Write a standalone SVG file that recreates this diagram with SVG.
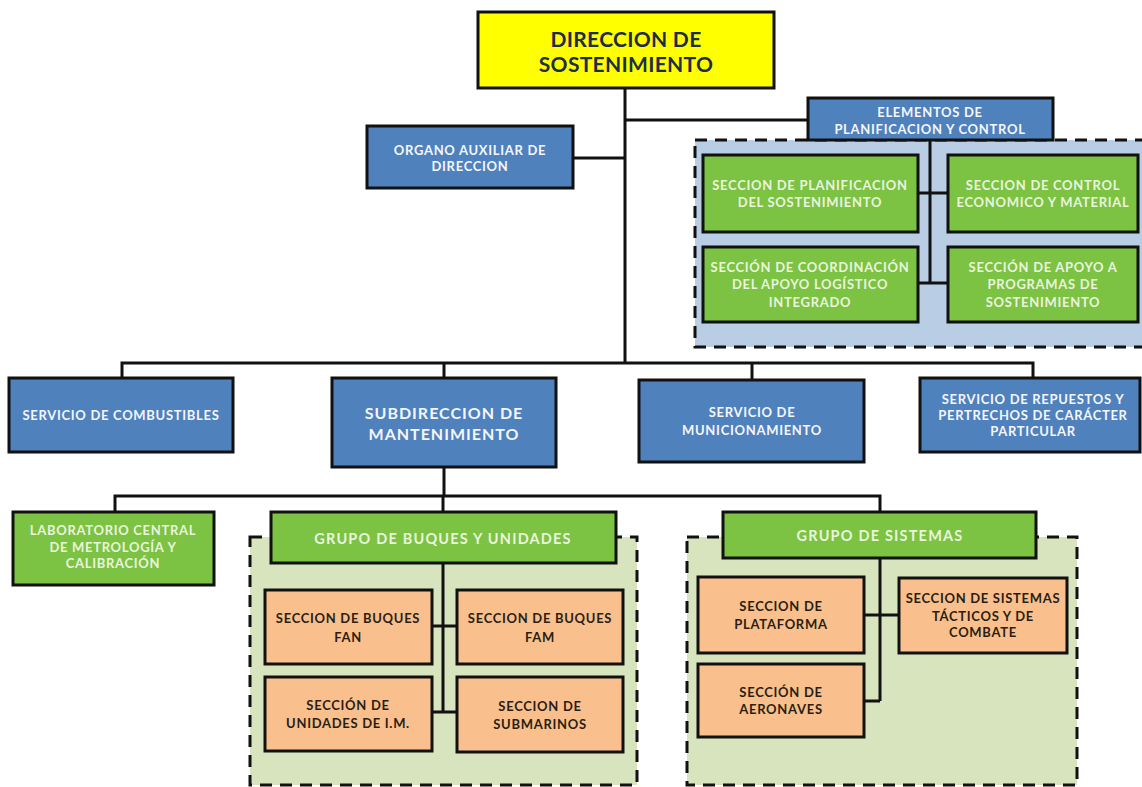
<svg xmlns="http://www.w3.org/2000/svg" width="1142" height="787" viewBox="0 0 1142 787">
<style>
.box{stroke:#111;stroke-width:3}
.blue{fill:#4f81bd}
.green{fill:#7cc243}
.orange{fill:#f9c08e}
.yellow{fill:#ffff00}
.panel{stroke:#111;stroke-width:3;stroke-dasharray:12 8}
.pblue{fill:#b9cde5}
.pgreen{fill:#d7e4bd}
text{font-family:Lato,"Liberation Sans",sans-serif;font-weight:bold;text-anchor:middle;dominant-baseline:central;font-size:13px;letter-spacing:0.7px}
.tw{fill:#f4f6fb}
.tg{fill:#e9f5dd}
.td{fill:#2a1e12}
.big{font-size:16px;letter-spacing:1px}
.grp{font-size:14.5px;letter-spacing:1.2px}
.title{font-size:21px;fill:#1f2d4d;letter-spacing:0.3px}
.conn{stroke:#111;stroke-width:3;fill:none}
</style>
<rect width="1142" height="787" fill="#ffffff"/>
<g id="panel-planificacion"><rect class="panel pblue" x="695" y="140" width="462" height="207"/></g>
<g id="panel-buques"><rect class="panel pgreen" x="250" y="537" width="387" height="248"/></g>
<g id="panel-sistemas"><rect class="panel pgreen" x="687" y="537" width="390" height="248"/></g>
<g id="connectors">
<path class="conn" d="M625 88V363"/>
<path class="conn" d="M122 378V363H1033V378"/>
<path class="conn" d="M444 363V378"/>
<path class="conn" d="M752 363V380"/>
<path class="conn" d="M625 120H808"/>
<path class="conn" d="M573 158H625"/>
<path class="conn" d="M930 140V283"/>
<path class="conn" d="M918 193H948"/>
<path class="conn" d="M918 283H948"/>
<path class="conn" d="M444 467V496"/>
<path class="conn" d="M115 512V496H880V512"/>
<path class="conn" d="M443 496V512"/>
<path class="conn" d="M443 563V712"/>
<path class="conn" d="M432 626H457"/>
<path class="conn" d="M432 712H457"/>
<path class="conn" d="M880 558V701"/>
<path class="conn" d="M864 615H899"/>
<path class="conn" d="M864 701H880"/>
</g>
<g id="direccion"><rect class="box yellow" x="478" y="12" width="296" height="76"/>
<text class="title" x="626" y="38">DIRECCION DE</text>
<text class="title" x="626" y="63">SOSTENIMIENTO</text></g>
<g id="organo"><rect class="box blue" x="367" y="126" width="206" height="62"/>
<text class="tw" x="470" y="150">ORGANO AUXILIAR DE</text>
<text class="tw" x="470" y="166">DIRECCION</text></g>
<g id="elementos"><rect class="box blue" x="808" y="98" width="245" height="42"/>
<text class="tw" x="930" y="112">ELEMENTOS DE</text>
<text class="tw" x="930" y="129">PLANIFICACION Y CONTROL</text></g>
<g id="sec-planificacion"><rect class="box green" x="703" y="155" width="215" height="77"/>
<text class="tg" x="810" y="185">SECCION DE PLANIFICACION</text>
<text class="tg" x="810" y="202">DEL SOSTENIMIENTO</text></g>
<g id="sec-control"><rect class="box green" x="948" y="155" width="190" height="77"/>
<text class="tg" x="1043" y="185">SECCION DE CONTROL</text>
<text class="tg" x="1043" y="202">ECONOMICO Y MATERIAL</text></g>
<g id="sec-coordinacion"><rect class="box green" x="703" y="247" width="215" height="75"/>
<text class="tg" x="810" y="267">SECCIÓN DE COORDINACIÓN</text>
<text class="tg" x="810" y="284">DEL APOYO LOGÍSTICO</text>
<text class="tg" x="810" y="302">INTEGRADO</text></g>
<g id="sec-apoyo"><rect class="box green" x="948" y="247" width="190" height="75"/>
<text class="tg" x="1043" y="267">SECCIÓN DE APOYO A</text>
<text class="tg" x="1043" y="284">PROGRAMAS DE</text>
<text class="tg" x="1043" y="302">SOSTENIMIENTO</text></g>
<g id="combustibles"><rect class="box blue" x="9" y="378" width="224" height="74"/>
<text class="tw" x="121" y="415">SERVICIO DE COMBUSTIBLES</text></g>
<g id="subdireccion"><rect class="box blue" x="332" y="378" width="224" height="89"/>
<text class="tw big" x="444" y="412">SUBDIRECCION DE</text>
<text class="tw big" x="444" y="433">MANTENIMIENTO</text></g>
<g id="municionamiento"><rect class="box blue" x="639" y="380" width="225" height="82"/>
<text class="tw" x="752" y="412">SERVICIO DE</text>
<text class="tw" x="752" y="430">MUNICIONAMIENTO</text></g>
<g id="repuestos"><rect class="box blue" x="920" y="378" width="220" height="74"/>
<text class="tw" x="1033" y="399">SERVICIO DE REPUESTOS Y</text>
<text class="tw" x="1033" y="415">PERTRECHOS DE CARÁCTER</text>
<text class="tw" x="1033" y="431">PARTICULAR</text></g>
<g id="laboratorio"><rect class="box green" x="13" y="512" width="201" height="73"/>
<text class="tg" x="113" y="530">LABORATORIO CENTRAL</text>
<text class="tg" x="113" y="547">DE METROLOGÍA Y</text>
<text class="tg" x="113" y="563">CALIBRACIÓN</text></g>
<g id="grupo-buques"><rect class="box green" x="271" y="512" width="345" height="51"/>
<text class="tg grp" x="443" y="538">GRUPO DE BUQUES Y UNIDADES</text></g>
<g id="sec-fan"><rect class="box orange" x="265" y="590" width="167" height="74"/>
<text class="td" x="348" y="618">SECCION DE BUQUES</text>
<text class="td" x="348" y="637">FAN</text></g>
<g id="sec-fam"><rect class="box orange" x="457" y="590" width="166" height="74"/>
<text class="td" x="540" y="618">SECCION DE BUQUES</text>
<text class="td" x="540" y="637">FAM</text></g>
<g id="sec-im"><rect class="box orange" x="265" y="677" width="167" height="74"/>
<text class="td" x="348" y="705">SECCIÓN DE</text>
<text class="td" x="348" y="723">UNIDADES DE I.M.</text></g>
<g id="sec-submarinos"><rect class="box orange" x="457" y="677" width="166" height="75"/>
<text class="td" x="540" y="706">SECCION DE</text>
<text class="td" x="540" y="724">SUBMARINOS</text></g>
<g id="grupo-sistemas"><rect class="box green" x="723" y="512" width="313" height="46"/>
<text class="tg grp" x="880" y="535">GRUPO DE SISTEMAS</text></g>
<g id="sec-plataforma"><rect class="box orange" x="698" y="577" width="166" height="76"/>
<text class="td" x="781" y="606">SECCION DE</text>
<text class="td" x="781" y="624">PLATAFORMA</text></g>
<g id="sec-aeronaves"><rect class="box orange" x="698" y="664" width="166" height="73"/>
<text class="td" x="781" y="692">SECCIÓN DE</text>
<text class="td" x="781" y="709">AERONAVES</text></g>
<g id="sec-tacticos"><rect class="box orange" x="899" y="578" width="168" height="75"/>
<text class="td" x="983" y="598">SECCION DE SISTEMAS</text>
<text class="td" x="983" y="616">TÁCTICOS Y DE</text>
<text class="td" x="983" y="632">COMBATE</text></g>
</svg>
